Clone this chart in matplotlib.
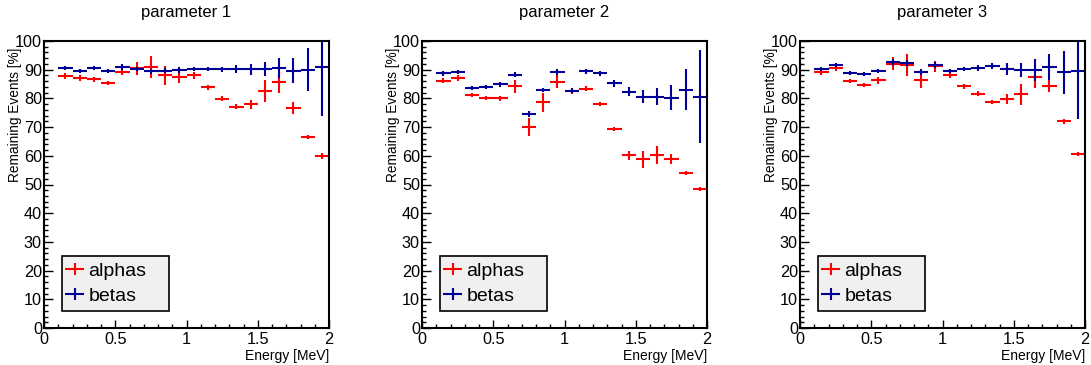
import matplotlib
matplotlib.use("Agg")
import matplotlib.pyplot as plt
from matplotlib.patches import Rectangle
from matplotlib.ticker import MultipleLocator, FixedLocator
from matplotlib.container import ErrorbarContainer
from matplotlib.legend_handler import HandlerErrorbar

plt.rcParams["font.family"] = ["Liberation Sans", "DejaVu Sans"]

# Energy bin centres [MeV]; every bin is 0.1 MeV wide
energy = [0.15, 0.25, 0.35, 0.45, 0.55, 0.65, 0.75, 0.85, 0.95, 1.05,
          1.15, 1.25, 1.35, 1.45, 1.55, 1.65, 1.75, 1.85, 1.95]
bin_half_width = 0.05

titles = ["parameter 1", "parameter 2", "parameter 3"]

p1_alpha = [87.9, 87.1, 86.6, 85.3, 89.3, 90.5, 90.8, 88.1, 87.6, 88.0,
            83.8, 79.9, 77.1, 77.9, 82.6, 85.8, 76.6, 66.6, 60.0]
p1_alpha_err = [1.1, 1.0, 0.8, 0.8, 1.0, 2.3, 3.8, 3.3, 2.2, 1.2,
                1.0, 0.8, 0.8, 1.6, 3.8, 3.8, 2.0, 0.8, 1.0]
p1_beta = [90.5, 89.5, 90.7, 89.4, 91.0, 90.1, 89.4, 89.7, 89.8, 90.3,
           90.3, 90.1, 90.2, 90.1, 90.2, 90.5, 89.7, 90.0, 90.9]
p1_beta_err = [0.7, 0.7, 0.7, 0.7, 1.0, 0.7, 1.0, 1.0, 1.0, 0.8,
               0.8, 1.0, 1.5, 2.0, 2.5, 3.5, 4.5, 7.5, 17.2]

p2_alpha = [86.2, 87.2, 81.2, 80.3, 80.0, 84.2, 69.9, 78.6, 85.8, 82.6,
            83.4, 78.1, 69.3, 60.2, 58.8, 60.3, 58.8, 54.0, 48.4]
p2_alpha_err = [1.0, 1.0, 0.7, 0.7, 1.0, 2.2, 3.1, 3.2, 2.3, 1.0,
                0.8, 0.7, 0.8, 1.5, 2.9, 3.0, 1.7, 0.8, 0.7]
p2_beta = [88.7, 89.2, 83.5, 84.1, 84.9, 88.3, 74.5, 82.9, 89.2, 82.7,
           89.4, 88.7, 85.3, 82.4, 80.6, 80.6, 80.3, 83.0, 80.6]
p2_beta_err = [0.8, 0.8, 0.7, 0.7, 0.8, 0.8, 1.0, 0.8, 1.0, 0.8,
               1.0, 1.0, 1.2, 1.5, 2.2, 2.9, 4.2, 7.2, 16.2]

p3_alpha = [89.3, 90.6, 85.9, 84.7, 86.3, 92.1, 91.7, 86.5, 91.2, 88.3,
            84.2, 81.7, 78.7, 79.9, 81.4, 87.6, 84.3, 72.0, 60.5]
p3_alpha_err = [1.0, 1.0, 0.7, 0.7, 1.2, 2.3, 3.9, 3.0, 2.0, 1.2,
                0.8, 0.8, 0.7, 1.7, 3.7, 3.9, 2.0, 0.8, 0.7]
p3_beta = [90.2, 91.7, 89.0, 88.6, 89.5, 92.6, 92.3, 89.3, 91.7, 89.5,
           90.2, 90.7, 91.2, 90.2, 90.0, 90.0, 90.8, 89.1, 89.7]
p3_beta_err = [0.8, 0.8, 0.7, 0.7, 0.8, 1.0, 1.0, 1.0, 1.0, 0.8,
               0.8, 1.0, 1.0, 2.0, 2.5, 3.8, 4.5, 7.4, 17.0]

panels = [
    (p1_alpha, p1_alpha_err, p1_beta, p1_beta_err),
    (p2_alpha, p2_alpha_err, p2_beta, p2_beta_err),
    (p3_alpha, p3_alpha_err, p3_beta, p3_beta_err),
]

x_ticks = [0, 0.5, 1, 1.5, 2]
x_tick_labels = ["0", "0.5", "1", "1.5", "2"]
y_ticks = [0, 10, 20, 30, 40, 50, 60, 70, 80, 90, 100]

RED = "#ff0000"
BLUE = "#000099"

W, H = 1091, 365
fig = plt.figure(figsize=(W / 100, H / 100), dpi=100)
fig.patch.set_facecolor("white")

ax_w, ax_h = 285, 287
lefts = [44, 422, 800]
bottom = 328

for left, title, (a, ae, b, be) in zip(lefts, titles, panels):
    ax = fig.add_axes([left / W, (H - bottom) / H, ax_w / W, ax_h / H])
    ax.set_xlim(0, 2)
    ax.set_ylim(0, 100)

    ha = ax.errorbar(energy, a, xerr=bin_half_width, yerr=ae, fmt="none",
                     ecolor=RED, elinewidth=1.5, capsize=0, label="alphas",
                     zorder=3)
    hb = ax.errorbar(energy, b, xerr=bin_half_width, yerr=be, fmt="none",
                     ecolor=BLUE, elinewidth=1.5, capsize=0, label="betas",
                     zorder=4)

    ax.xaxis.set_major_locator(FixedLocator(x_ticks))
    ax.set_xticklabels(x_tick_labels)
    ax.xaxis.set_minor_locator(MultipleLocator(0.1))
    ax.yaxis.set_major_locator(FixedLocator(y_ticks))
    ax.yaxis.set_minor_locator(MultipleLocator(2))

    ax.tick_params(which="both", direction="in", top=False, right=False,
                   width=1.0, colors="black")
    ax.tick_params(axis="y", which="major", length=6.5, pad=1.5,
                   labelsize=11.7)
    ax.tick_params(axis="y", which="minor", length=3.2)
    ax.tick_params(axis="x", which="major", length=5.8, pad=3,
                   labelsize=11.7)
    ax.tick_params(axis="x", which="minor", length=3.0)

    for sp in ax.spines.values():
        sp.set_linewidth(1.5)
        sp.set_zorder(10)

    ax.text(0.5, (bottom - 13) / ax_h, title, transform=ax.transAxes,
            ha="center", va="center", fontsize=12)
    ax.text(-29 / ax_w, (bottom - 48) / ax_h, "Remaining Events [%]",
            transform=ax.transAxes, rotation=90, ha="center", va="top",
            fontsize=9.8)
    ax.text(1.0, -28 / ax_h, "Energy [MeV]", transform=ax.transAxes,
            ha="right", va="center", fontsize=10)

    # legend box
    box = Rectangle((18 / ax_w, 17 / ax_h), 107 / ax_w, 55 / ax_h,
                    transform=ax.transAxes, facecolor="#f0f0f0",
                    edgecolor="black", linewidth=1.2, zorder=6)
    ax.add_patch(box)
    leg = ax.legend(handles=[ha, hb], labels=["alphas", "betas"],
                    loc="center left", bbox_to_anchor=(21 / ax_w, 44.5 / ax_h),
                    frameon=False, fontsize=14, handlelength=1.0,
                    handletextpad=0.2, labelspacing=0.35, borderpad=0,
                    borderaxespad=0,
                    handler_map={ErrorbarContainer:
                                 HandlerErrorbar(xerr_size=0.5, yerr_size=0.31)})
    leg.set_zorder(7)

fig.savefig("out.png", dpi=100, facecolor="white")
